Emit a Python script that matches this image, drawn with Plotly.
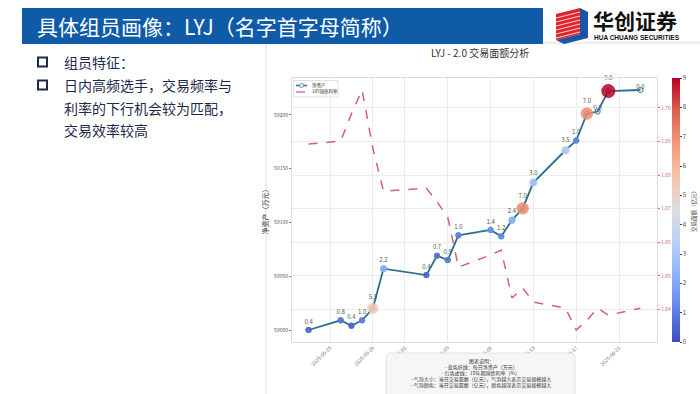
import pandas as pd
import plotly.graph_objects as go

# ---------------- data ----------------
dates = ["2025-05-23", "2025-05-26", "2025-05-27", "2025-05-28", "2025-05-29", "2025-05-30",
         "2025-06-03", "2025-06-04", "2025-06-05", "2025-06-06",
         "2025-06-09", "2025-06-10", "2025-06-11", "2025-06-12", "2025-06-13",
         "2025-06-16", "2025-06-17", "2025-06-18", "2025-06-19", "2025-06-20", "2025-06-23"]
net_assets = [50000, 50009, 50004, 50009, 50020, 50057, 50051, 50069, 50065, 50088,
              50093, 50087, 50102, 50113, 50137, 50167, 50176, 50201, 50203, 50222, 50223]
bond_yield = [1.6892, 1.6901, 1.6982, 1.7053, 1.6880, 1.6752, 1.6761, 1.6720, 1.6675, 1.6526,
              1.6562, 1.6577, 1.6434, 1.6464, 1.6422, 1.6404, 1.6339, 1.6368, 1.6404, 1.6383, 1.6404]
trade_amount = [0.4, 0.8, 0.4, 1.0, 5.5, 2.2, 0.4, 0.7, 0.9, 1.0,
                1.4, 1.2, 2.4, 7.0, 3.0, 3.5, 1.0, 7.0, 0.0, 9.0, 0.0]
x_ticks = ["2025-05-25", "2025-05-29", "2025-06-01", "2025-06-05",
           "2025-06-09", "2025-06-13", "2025-06-17", "2025-06-21"]
left_ticks = [50000, 50050, 50100, 50150, 50200]
right_ticks = [1.63, 1.64, 1.65, 1.66, 1.67, 1.68, 1.69, 1.70]
cbar_ticks = [0, 1, 2, 3, 4, 5, 6, 7, 8, 9]

series_names = ["净资产", "10Y国债利率"]
slide_title = "具体组员画像：LYJ（名字首字母简称）"
chart_title = "LYJ - 2.0 交易面额分析"
bullet_lines = [["组员特征："], ["日内高频选手，交易频率与", "利率的下行机会较为匹配，", "交易效率较高"]]
note_lines = ["图表说明：", "- 蓝色折线：每日净资产（万元）", "- 红色虚线：10年期国债利率（%）",
              "- 气泡大小：当日交易面额（亿元），气泡越大表示交易规模越大",
              "- 气泡颜色：当日交易面额（亿元），颜色越深表示交易规模越大"]

# ---------------- layout helpers ----------------
W, H = 700, 394
L, R, T, B = 292, 657, 78, 342
def px(x):
    return (x - L) / (R - L)
def py(y):
    return (B - y) / (B - T)

CJK = "Noto Sans CJK SC, Noto Sans, sans-serif"
BLUE = "#2b6f8e"
RED = "#d0607f"
coolwarm = [[0.0, "rgb(59,76,192)"], [0.125, "rgb(98,130,234)"], [0.25, "rgb(141,176,254)"],
            [0.375, "rgb(184,208,246)"], [0.5, "rgb(221,221,221)"], [0.625, "rgb(246,196,173)"],
            [0.75, "rgb(244,153,122)"], [0.875, "rgb(221,96,76)"], [1.0, "rgb(180,4,38)"]]

d0 = pd.Timestamp(dates[0]); d1 = pd.Timestamp(dates[-1])
span = d1 - d0
xr = [d0 - span * 0.05, d1 + span * 0.05]
ymin, ymax = min(net_assets), max(net_assets)
yr = [ymin - (ymax - ymin) * 0.05, ymax + (ymax - ymin) * 0.05]
rmin, rmax = min(bond_yield), max(bond_yield)
yr2 = [rmin - (rmax - rmin) * 0.05, rmax + (rmax - rmin) * 0.05]

fig = go.Figure()
fig.add_trace(go.Scatter(
    x=dates, y=net_assets, mode="lines+markers", name=series_names[0], showlegend=False,
    line=dict(color=BLUE, width=1.8),
    marker=dict(symbol="circle-open", size=5, color="#4f97bf", line=dict(width=1.2))))
fig.add_trace(go.Scatter(
    x=dates, y=net_assets, mode="markers+text", showlegend=False, cliponaxis=False,
    text=[f"{v:.1f}" for v in trade_amount], textposition="top center",
    textfont=dict(size=6, color="#555", family=CJK),
    marker=dict(size=trade_amount, sizemode="area", sizeref=4.5 / 49, sizemin=3,
                color=trade_amount, colorscale=coolwarm, cmin=0, cmax=9, opacity=0.85,
                line=dict(width=0),
                colorbar=dict(x=px(672), xanchor="left", xpad=0, y=0.5, yanchor="middle",
                              ypad=0, len=1.0, lenmode="fraction", thickness=8, outlinewidth=0,
                              tickvals=cbar_ticks, ticks="outside", ticklen=2,
                              tickfont=dict(size=6, color="#444"),
                              title=dict(text="交易面额（亿元）", side="right",
                                         font=dict(size=5.5, color="#444", family=CJK))))))
fig.add_trace(go.Scatter(
    x=dates, y=bond_yield, yaxis="y2", mode="lines", name=series_names[1], showlegend=False,
    line=dict(color=RED, width=1.5, dash="dash")))

fig.update_layout(
    width=W, height=H, paper_bgcolor="white", plot_bgcolor="white",
    margin=dict(l=L, r=W - R, t=T, b=H - B, autoexpand=False),
    font=dict(family=CJK, color="#444"),
    xaxis=dict(type="date", range=xr, tickvals=x_ticks, ticktext=x_ticks, tickangle=-45,
               tickfont=dict(size=5, color="#666"), showgrid=True, gridcolor="#ececec",
               gridwidth=0.7, showline=True, linecolor="#dddddd", mirror=True, ticks="",
               zeroline=False, automargin=False),
    yaxis=dict(range=yr, tickvals=left_ticks, tickformat="d", tickfont=dict(size=5, color="#555"),
               title=dict(text="净资产（万元）", font=dict(size=7, color="#333"), standoff=4),
               showgrid=False, ticks="outside", ticklen=2, tickcolor="#777",
               showline=True, linecolor="#dddddd", zeroline=False, automargin=False),
    yaxis2=dict(overlaying="y", side="right", range=yr2, tickvals=right_ticks,
                tickformat=".2f", tickfont=dict(size=5, color=RED),
                showgrid=True, gridcolor="#ececec", gridwidth=0.7,
                ticks="outside", ticklen=2, tickcolor=RED,
                showline=True, linecolor="#dddddd", zeroline=False, automargin=False),
)

shapes = []
annos = []
def P(x, y):
    return f"{px(x)} {py(y)}"
# header bar
shapes.append(dict(type="rect", xref="paper", yref="paper", x0=px(22), x1=px(543),
                   y0=py(44), y1=py(8), fillcolor="#0f5ba7", line=dict(width=0), layer="below"))
shapes.append(dict(type="rect", xref="paper", yref="paper", x0=px(543), x1=px(700),
                   y0=py(44), y1=py(41.5), fillcolor="#eeeeee", line=dict(width=0), layer="below"))
annos.append(dict(text=slide_title, x=px(35), y=py(26), xref="paper", yref="paper",
                  xanchor="left", yanchor="middle", showarrow=False,
                  font=dict(size=21, color="white", family=CJK)))
# logo
shapes.append(dict(type="path", xref="paper", yref="paper",
                   path=f"M {P(556,14)} L {P(580,8)} L {P(580,34)} L {P(556,40)} Z",
                   fillcolor="#e0242b", line=dict(width=0)))
for k in range(7):
    yy = 12 + k * 4
    shapes.append(dict(type="line", xref="paper", yref="paper",
                       x0=px(556), y0=py(yy + 6), x1=px(580), y1=py(yy),
                       line=dict(color="white", width=0.8)))
shapes.append(dict(type="path", xref="paper", yref="paper",
                   path=f"M {P(580,8)} L {P(588,12)} L {P(588,38)} L {P(564,44)} L {P(556,40)} L {P(580,34)} Z",
                   fillcolor="#1d55a5", line=dict(width=0)))
annos.append(dict(text="<b>华创证券</b>", x=px(591), y=py(20), xref="paper", yref="paper",
                  xanchor="left", yanchor="middle", showarrow=False,
                  font=dict(size=21, color="#111", family=CJK)))
annos.append(dict(text="<b>HUA CHUANG SECURITIES</b>", x=px(592), y=py(38), xref="paper", yref="paper",
                  xanchor="left", yanchor="middle", showarrow=False,
                  font=dict(size=6.5, color="#111", family="Liberation Sans, Arial")))
# separator
shapes.append(dict(type="line", xref="paper", yref="paper", x0=px(266), x1=px(266),
                   y0=py(44), y1=py(394), line=dict(color="#dddddd", width=1)))
# bullets
row_y = [[62], [85, 108, 130]]
for grp, ys in zip(bullet_lines, row_y):
    y0 = ys[0]
    shapes.append(dict(type="rect", xref="paper", yref="paper", x0=px(38), x1=px(47),
                       y0=py(y0 - 4.5), y1=py(y0 + 4.5), line=dict(color="#1b2a4a", width=2),
                       fillcolor="white"))
    for txt, yy in zip(grp, ys):
        annos.append(dict(text=txt, x=px(62), y=py(yy), xref="paper", yref="paper",
                          xanchor="left", yanchor="middle", showarrow=False,
                          font=dict(size=14, color="#1b2a4a", family=CJK)))
# chart title
annos.append(dict(text=chart_title, x=px(480), y=py(53), xref="paper", yref="paper",
                  xanchor="center", yanchor="middle", showarrow=False,
                  font=dict(size=10, color="#333", family=CJK)))
# custom compact legend
shapes.append(dict(type="rect", xref="paper", yref="paper", x0=px(293.5), x1=px(338),
                   y0=py(97), y1=py(80.5), fillcolor="white", line=dict(color="#cccccc", width=0.6)))
shapes.append(dict(type="line", xref="paper", yref="paper", x0=px(296), x1=px(307),
                   y0=py(85.5), y1=py(85.5), line=dict(color=BLUE, width=1.5)))
shapes.append(dict(type="circle", xref="paper", yref="paper", x0=px(299.5), x1=px(303.5),
                   y0=py(87.5), y1=py(83.5), fillcolor="white", line=dict(color="#4f97bf", width=1)))
shapes.append(dict(type="line", xref="paper", yref="paper", x0=px(296), x1=px(307),
                   y0=py(92), y1=py(92), line=dict(color=RED, width=1.3, dash="dash")))
for name, yy in zip(series_names, [85.5, 92]):
    annos.append(dict(text=name, x=px(310), y=py(yy), xref="paper", yref="paper",
                      xanchor="left", yanchor="middle", showarrow=False,
                      font=dict(size=4.5, color="#333", family=CJK)))
# explanation box
bx0, bx1, by0, by1, rr = 386, 575, 353, 400, 5
shapes.append(dict(type="path", xref="paper", yref="paper",
                   path=(f"M {P(bx0,by1)} L {P(bx0,by0+rr)} Q {P(bx0,by0)} {P(bx0+rr,by0)} "
                         f"L {P(bx1-rr,by0)} Q {P(bx1,by0)} {P(bx1,by0+rr)} L {P(bx1,by1)} Z"),
                   fillcolor="#f6f6f6", line=dict(color="#dcdcdc", width=0.8)))
for i, t in enumerate(note_lines):
    annos.append(dict(text=t, x=px(481), y=py(361 + i * 6), xref="paper", yref="paper",
                      xanchor="center", yanchor="middle", showarrow=False,
                      font=dict(size=5, color="#333", family=CJK)))

fig.update_layout(shapes=shapes, annotations=annos)
fig.write_html("out.html", config={"displayModeBar": False},
               post_script="document.body.style.margin='0';document.body.style.overflow='hidden';")
